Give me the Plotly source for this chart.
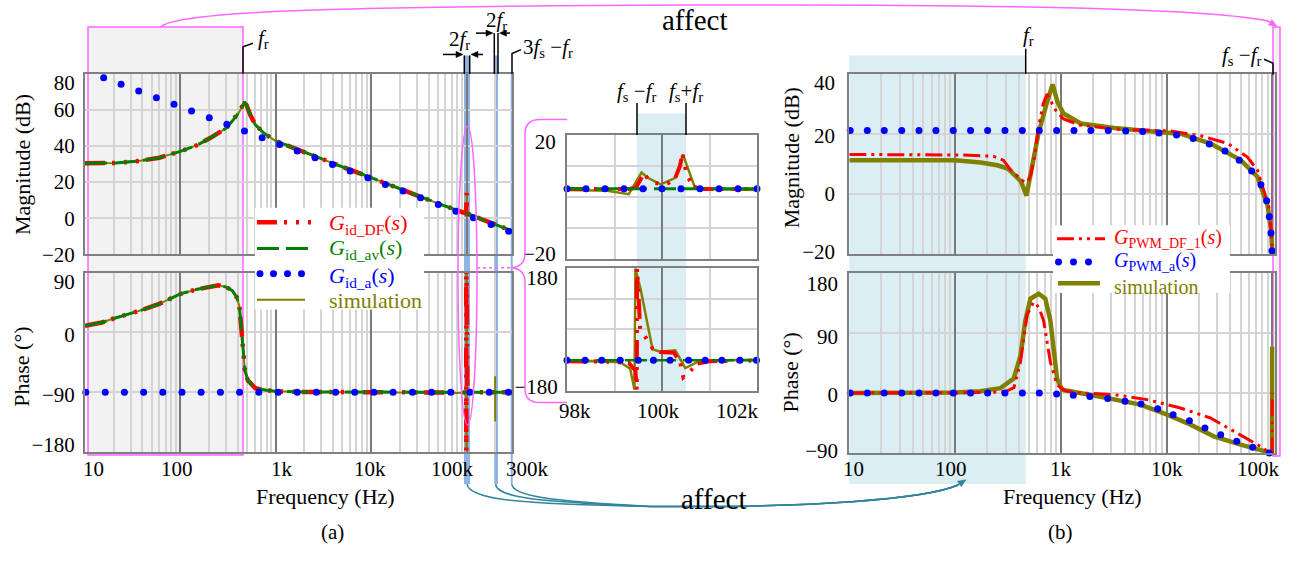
import math
import plotly.graph_objects as go

W, H = 1308, 563
def X(p): return p / W
def Y(p): return 1 - p / H
def P(x, y): return f"{X(x):.5f},{Y(y):.5f}"

FONT = "Times New Roman, Liberation Serif, DejaVu Serif, serif"
RED, GREEN, BLUE, OLIVE = "#ff0000", "#008000", "#0000ff", "#808000"
PINK, TEAL, BAND, LBLUE, LGRAY = "#ff66ff", "#31859c", "#8db4e2", "#daeef3", "#f2f2f2"
GRID, DGRID, FRAME = "#d4d4d4", "#7a7a7a", "#808080"
DF_DASH = "20px,7px,3px,9px,3px,9px,3px,7px"
AV_DASH = "22px,7px"
DF1_DASH = "17px,5px,3px,5px,3px,5px"

# ---------------- data : panel (a)  G_id ----------------
freq_a_mag = [10, 15, 21, 38, 60, 100, 150, 205, 250, 305, 360, 410, 440, 470, 495, 540, 610, 740, 990,
              1800, 4000, 10000, 21600, 50000, 98000]
mag_a_model = [30.4, 30.4, 30.6, 31.8, 33.5, 37.0, 40.5, 44.4, 47.0, 50.0, 54.6, 58.5, 61.5, 64.5, 62.6,
               57.3, 51.9, 47.4, 42.9, 37.5, 30.4, 22.5, 15.5, 8.2, 2.7]
freq_a_mag_hi = [102000, 150000, 200000, 300000]
mag_a_hi = [2.6, -1.0, -3.4, -7.0]

freq_a_ph = [10, 15, 20, 30, 40, 60, 80, 100, 150, 200, 250, 300, 350, 390, 415, 430, 450, 475, 510, 610,
             800, 1000, 2000, 10000, 98000]
ph_a_model = [10, 15, 21, 28, 34, 43, 51, 58, 65, 69, 71, 68.5, 63, 53, 40, 16, -22, -57, -72, -84,
              -87, -88.5, -89.5, -90, -90.5]
freq_a_ph_hi = [102000, 300000]
ph_a_hi = [-90, -90]
freq_sim_ph_hi = [102000, 199400, 199500, 199700, 200000, 300000]
ph_sim_hi = [-90, -90, -66, -134, -90, -90]

freq_a_dots_mag = [10.2, 15.7, 23.9, 36.6, 56.1, 85.8, 131, 201, 307, 470, 720, 1100, 1680, 2580, 3940,
                   6030, 9230, 14100, 21600, 33000, 50600, 77400, 118000, 181000, 277000]
mag_a_dots = [81.6, 77.9, 74.2, 70.5, 66.8, 63.1, 59.4, 55.7, 52.0, 48.3, 44.6, 40.9, 37.2, 33.5, 29.8,
              26.1, 22.4, 18.7, 15.0, 11.3, 7.6, 3.9, 0.2, -3.5, -7.2]
freq_a_dots_ph = [10.2, 16.3, 25.9, 41.2, 65.4, 104, 165, 263, 418, 664, 1060, 1680, 2670, 4240, 6740,
                  10700, 17000, 27100, 43000, 68400, 109000, 173000, 275000]
ph_a_dots = [-90, -90, -90, -90, -90, -90, -90, -90, -90, -90, -90, -90, -90, -90, -90, -90, -90, -90,
             -90, -90, -90, -90, -90]

# inset 98k - 102k
freq_in_df_mag = [98000, 99300, 99450, 99550, 99620, 99700, 99850, 100000, 100150, 100280, 100380, 100430,
                  100520, 100650, 100800, 102000]
mag_in_df = [2.6, 2.6, 3.0, 5.8, 7.5, 6.0, 4.6, 4.1, 4.6, 6.2, 10.0, 14.0, 7.2, 3.5, 2.6, 2.6]
freq_in_sim_mag = [98000, 98850, 99300, 99570, 99700, 99970, 100280, 100440, 100700, 102000]
mag_in_sim = [2.3, 2.0, 0.9, 7.9, 6.2, 4.1, 6.2, 13.75, 2.7, 2.3]
freq_in_av = [98000, 102000]
mag_in_av = [2.7, 2.7]
ph_in_av = [-90, -90]
freq_in_dots_mag = [98000, 98400, 98800, 99200, 99600, 100000, 100400, 100800, 101200, 101600, 102000]
mag_in_dots = [2.7, 2.7, 2.7, 2.7, 2.7, 2.7, 2.7, 2.7, 2.7, 2.7, 2.7]
freq_in_dots_ph = [98000, 98380, 98730, 99120, 99500, 99820, 100170, 100560, 100910, 101260, 101640, 101990]
ph_in_dots = [-90, -90, -90, -90, -90, -90, -90, -90, -90, -90, -90, -90]
freq_in_df_ph = [98000, 98800, 99300, 99440, 99470, 99475, 99510, 99540, 99620, 99800, 99950, 100250,
                 100380, 100450, 100550, 100750, 101000, 102000]
ph_in_df = [-93, -94, -98, -120, -178, 178, 90, 0, -16, -55, -66, -68, -95, -140, -128, -100, -93, -91]
freq_in_sim_ph = [98000, 99120, 99330, 99420, 99440, 99550, 99800, 99960, 100280, 100490, 100740, 101000,
                  102000]
ph_in_sim = [-91, -96, -115, -176, 178, 117, -58, -65, -61, -113, -96, -91, -89]

# ---------------- data : panel (b)  G_PWM ----------------
freq_b_df_mag = [10, 50, 120, 230, 286, 334, 400, 450, 481, 520, 560, 612, 680, 740, 800, 890, 1060, 1500,
                 3200, 10900, 21000, 38000, 58000, 72000, 92000, 97000, 100000]
mag_b_df = [13.2, 13.2, 13.0, 12.6, 11.3, 8.1, 5.5, 4.0, 3.9, 6.5, 12.0, 22.0, 30.0, 33.3, 31.0, 28.0,
            25.0, 23.0, 21.6, 21.0, 19.4, 16.8, 12.3, 8.0, -3.9, -12.0, -20.0]
freq_b_sim_mag = [10, 100, 174, 250, 315, 418, 473, 530, 612, 740, 835, 930, 1060, 1540, 3200, 6600,
                  13700, 26000, 50000, 72000, 90000, 97000, 100000]
mag_b_sim = [11.3, 11.3, 10.5, 9.6, 8.5, 4.3, -0.5, 8.0, 20.0, 30.6, 36.5, 30.6, 26.8, 23.5, 22.0, 21.0,
             20.0, 16.8, 11.3, 5.8, -3.9, -12.0, -20.0]
freq_b_dots_mag = [10.2, 14.8, 21.4, 31.3, 45.6, 65.9, 96.1, 140, 203, 296, 432, 625, 912, 1330, 1920,
                   2800, 4100, 5930, 8450, 12400, 17800, 25300, 35600, 48500, 63600, 77800, 88100, 93300,
                   96800, 98900]
mag_b_dots = [21.2, 21.2, 21.2, 21.2, 21.2, 21.2, 21.2, 21.2, 21.2, 21.2, 21.2, 21.2, 21.2, 21.2, 21.2,
              21.2, 21.0, 20.8, 20.3, 19.7, 18.5, 16.7, 14.3, 11.3, 7.7, 3.1, -2.2, -7.5, -12.9, -18.8]
freq_b_df_ph = [10, 100, 200, 300, 360, 414, 479, 553, 620, 687, 740, 796, 920, 1100, 1530, 3150, 6530,
                13500, 25900, 49800, 77000, 94400, 99500, 99600]
ph_b_df = [0, 0, 0.5, 2.0, 8.0, 45.5, 117, 136, 128, 108, 74, 45.5, 12, 3, 0, -2.5, -10, -22.5, -37.5,
           -62.5, -80, -90, -90, 0]
freq_b_sim_ph = [10, 100, 173, 268, 358, 414, 461, 515, 617, 713, 796, 855, 920, 1026, 1530, 2730, 5650,
                 10100, 16800, 27900, 49800, 77000, 94400, 99000, 99300]
ph_b_sim = [0, 0.5, 2.4, 7.2, 21.5, 55, 108, 141, 148.5, 141, 108, 60, 21.5, 4.8, 0, -7.5, -17.5, -32.5,
            -47.5, -65, -77.5, -85, -90, -90, 69]
freq_b_dots_ph = [10.2, 14.8, 21.4, 31.3, 45.6, 65.9, 96.1, 140, 203, 296, 432, 625, 912, 1310, 1880, 2770,
                  4040, 5720, 8220, 11500, 16400, 23000, 32400, 45900, 65000, 93300]
ph_b_dots = [0, 0, 0, 0, 0, 0, 0, 0, 0, 0, 0, 0, -1.5, -3.5, -5.5, -8.5, -12.5, -16.5, -23.5, -32.5, -41.5,
             -52.5, -62.5, -72.5, -81.5, -90]

# tick labels
xlab_a = ["10", "100", "1k", "10k", "100k", "300k"]
xlab_b = ["10", "100", "1k", "10k", "100k"]
xlab_in = ["98k", "100k", "102k"]

# ---------------- figure ----------------
fig = go.Figure()

def line(xa, ya, f, v, color, width, dash="solid"):
    fig.add_trace(go.Scatter(x=f, y=v, xaxis=xa, yaxis=ya, mode="lines", showlegend=False,
                             hoverinfo="skip", line=dict(color=color, width=width, dash=dash)))

def dots(xa, ya, f, v, size=7):
    fig.add_trace(go.Scatter(x=f, y=v, xaxis=xa, yaxis=ya, mode="markers", showlegend=False,
                             hoverinfo="skip", cliponaxis=False,
                             marker=dict(color=BLUE, size=size, line=dict(width=0))))

# (a) magnitude
line("x", "y", freq_a_mag + freq_in_sim_mag + freq_a_mag_hi, mag_a_model + mag_in_sim + mag_a_hi, OLIVE, 2)
line("x", "y", freq_a_mag + freq_in_df_mag + freq_a_mag_hi, mag_a_model + mag_in_df + mag_a_hi, RED, 4.5, DF_DASH)
line("x", "y", freq_a_mag + freq_a_mag_hi, mag_a_model + mag_a_hi, GREEN, 3, AV_DASH)
dots("x", "y", freq_a_dots_mag, mag_a_dots)
# (a) phase
line("x2", "y2", freq_a_ph + freq_in_sim_ph + freq_sim_ph_hi, ph_a_model + ph_in_sim + ph_sim_hi, OLIVE, 2)
line("x2", "y2", freq_a_ph + freq_in_df_ph + freq_a_ph_hi, ph_a_model + ph_in_df + ph_a_hi, RED, 4.5, DF_DASH)
line("x2", "y2", freq_a_ph + freq_a_ph_hi, ph_a_model + ph_a_hi, GREEN, 3, AV_DASH)
dots("x2", "y2", freq_a_dots_ph, ph_a_dots)
# inset magnitude
line("x3", "y3", freq_in_sim_mag, mag_in_sim, OLIVE, 2.5)
line("x3", "y3", freq_in_df_mag, mag_in_df, RED, 4, DF_DASH)
line("x3", "y3", freq_in_av, mag_in_av, GREEN, 3, AV_DASH)
dots("x3", "y3", freq_in_dots_mag, mag_in_dots)
# inset phase
line("x4", "y4", freq_in_sim_ph, ph_in_sim, OLIVE, 2.5)
line("x4", "y4", freq_in_df_ph, ph_in_df, RED, 4, DF_DASH)
line("x4", "y4", freq_in_av, ph_in_av, GREEN, 2.5, AV_DASH)
dots("x4", "y4", freq_in_dots_ph, ph_in_dots)
# (b) magnitude
line("x5", "y5", freq_b_sim_mag, mag_b_sim, OLIVE, 4.5)
line("x5", "y5", freq_b_df_mag, mag_b_df, RED, 3, DF1_DASH)
dots("x5", "y5", freq_b_dots_mag, mag_b_dots)
# (b) phase
line("x6", "y6", freq_b_sim_ph, ph_b_sim, OLIVE, 4.5)
line("x6", "y6", freq_b_df_ph, ph_b_df, RED, 3, DF1_DASH)
dots("x6", "y6", freq_b_dots_ph, ph_b_dots)

# ---------------- axes ----------------
minor_a = [m * 10 ** e for e in range(1, 6) for m in range(2, 10) if m * 10 ** e <= 300000]
minor_b = [m * 10 ** e for e in range(1, 5) for m in range(2, 10)]
dec_a = [10, 100, 1000, 10000, 100000]

def xlog(x0, x1, rng, anchor, minor_vals):
    return dict(type="log", domain=[X(x0), X(x1)], range=rng, anchor=anchor, tickmode="array",
                tickvals=dec_a, showticklabels=False, ticks="", showgrid=True, gridcolor=DGRID,
                gridwidth=1.5, minor=dict(tickmode="array", tickvals=minor_vals, showgrid=True,
                                           gridcolor=GRID, gridwidth=1.5, ticks=""),
                showline=True, mirror=True, linecolor=FRAME, linewidth=2, zeroline=False)

def xin(anchor):
    return dict(domain=[X(567), X(757)], range=[98000, 102000], anchor=anchor, tickmode="array",
                tickvals=[100000], showticklabels=False, ticks="", showgrid=True, gridcolor=DGRID,
                gridwidth=1.5, minor=dict(tickmode="array", tickvals=[99000, 101000], showgrid=True,
                                           gridcolor=GRID, gridwidth=1.5, ticks=""),
                showline=True, mirror=True, linecolor=FRAME, linewidth=2, zeroline=False)

def ylin(y0, y1, rng, anchor, labvals, labtext, gridvals, standoff):
    return dict(domain=[Y(y1), Y(y0)], range=rng, anchor=anchor, tickmode="array", tickvals=labvals,
                ticktext=labtext, ticks="", showgrid=False,
                minor=dict(tickmode="array", tickvals=gridvals, showgrid=True, gridcolor=GRID,
                           gridwidth=1.5, ticks=""),
                showline=True, mirror=True, linecolor=FRAME, linewidth=2, zeroline=False,
                tickfont=dict(family=FONT, size=21, color="black"), ticklabelstandoff=standoff)

fig.update_layout(
    xaxis=xlog(85, 512, [1, 5.4771], "y", minor_a),
    xaxis2=xlog(85, 512, [1, 5.4771], "y2", minor_a),
    xaxis3=xin("y3"),
    xaxis4=xin("y4"),
    xaxis5=xlog(849.3, 1274.7, [1, 5.021], "y5", minor_b),
    xaxis6=xlog(849.3, 1274.7, [1, 5.021], "y6", minor_b),
    yaxis=ylin(71, 257, [-20, 80], "x", [75.2, 60, 40, 20, 0, -20],
               ["80", "60", "40", "20", "0", "\u221220"], [0, 20, 40, 60], 4),
    yaxis2=ylin(276, 461, [-180, 90], "x2", [77, -3, -94, -169],
                ["90", "0", "\u221290", "\u2212180"], [0, -90], 4),
    yaxis3=ylin(134, 262, [-20, 20], "x3", [17.8, -18.4], ["20", "\u221220"], [-10, 0, 10], 5),
    yaxis4=ylin(271, 398, [-180, 180], "x4", [152, -166], ["180", "\u2212180"], [-90, 0, 90], 3),
    yaxis5=ylin(71, 257, [-20, 40], "x5", [37.1, 19.4, 0, -19],
                ["40", "20", "0", "\u221220"], [0, 20], 8),
    yaxis6=ylin(276, 462, [-90, 180], "x6", [163, 84, -3, -86],
                ["180", "90", "0", "\u221290"], [0, 90], 5),
)

# ---------------- shapes ----------------
shapes = []
def rect(x0, y0, x1, y1, fill, lc=None, lw=0, layer="below"):
    shapes.append(dict(type="rect", xref="paper", yref="paper", x0=X(x0), x1=X(x1), y0=Y(y1), y1=Y(y0),
                       fillcolor=fill, line=dict(color=lc or fill, width=lw), layer=layer))

def pth(d, color, width=1.5, dash="solid", layer="above", fill=None):
    s = dict(type="path", xref="paper", yref="paper", path=d,
             line=dict(color=color, width=width, dash=dash), layer=layer)
    if fill:
        s["fillcolor"] = fill
    shapes.append(s)

def seg(x0, y0, x1, y1, color="black", width=1.5, dash="solid"):
    shapes.append(dict(type="line", xref="paper", yref="paper", x0=X(x0), y0=Y(y0), x1=X(x1), y1=Y(y1),
                       line=dict(color=color, width=width, dash=dash), layer="above"))

def circ(cx, cy, r, color):
    shapes.append(dict(type="circle", xref="paper", yref="paper", x0=X(cx - r), x1=X(cx + r),
                       y0=Y(cy + r), y1=Y(cy - r), fillcolor=color, line=dict(width=0), layer="above"))

def arrow(tx0, ty0, hx, hy, color="black", head=7.0, half=3.2):
    # straight arrow from tail (tx0, ty0) to tip (hx, hy), drawn as a line and a filled head
    dx, dy = hx - tx0, hy - ty0
    n = math.hypot(dx, dy)
    ux, uy = dx / n, dy / n
    bx, by = hx - ux * head, hy - uy * head
    px_, py_ = -uy * half, ux * half
    seg(tx0, ty0, bx, by, color, 1.5)
    pth("M" + P(hx, hy) + " L" + P(bx + px_, by + py_) + " L" + P(bx - px_, by - py_) + " Z",
        color, 0.5, fill=color)

rect(88, 22.7, 243, 464, LGRAY, PINK, 1.5)
rect(849.3, 52, 1025.7, 494, LBLUE)
rect(637, 112, 686, 398, LBLUE)
rect(1273, 22.7, 1280, 465, LGRAY, PINK, 1.5)
rect(464, 52, 470, 494, BAND)
rect(494.3, 52, 498, 494, BAND)
rect(510.7, 71, 512.7, 494, BAND)

# magnifier
shapes.append(dict(type="circle", xref="paper", yref="paper", x0=X(458), x1=X(477), y0=Y(433), y1=Y(125),
                   line=dict(color=PINK, width=1.5), layer="above"))
seg(477, 271, 511, 271, PINK, 1.5, "dot")
pth("M" + P(567, 118) + " L" + P(540, 118) + " Q" + P(525, 118) + " " + P(525, 133) + " L" + P(525, 256)
    + " Q" + P(525, 270) + " " + P(511, 271) + " Q" + P(525, 272) + " " + P(525, 286) + " L" + P(525, 396)
    + " Q" + P(525, 410) + " " + P(540, 410) + " L" + P(567, 410), PINK)
# top pink arc
pth("M" + P(160, 23) + " C" + P(175, 8) + " " + P(300, 1) + " " + P(700, 0) + " C" + P(1050, -1) + " "
    + P(1220, 6) + " " + P(1268, 16.5), PINK, 1.5)
# teal arcs
for sx, c1 in [(467, (469, 510, 520, 515)), (495.5, (497, 507, 530, 512)), (511.7, (513, 506, 545, 511))]:
    pth("M" + P(sx, 494) + " C" + P(c1[0], c1[1]) + " " + P(c1[2], c1[3]) + " " + P(650, 517) + " C"
        + P(810, 518.5) + " " + P(925, 510) + " " + P(958, 495), TEAL, 1.5)

# black leader lines
pth("M" + P(243, 71) + " L" + P(243, 43) + " L" + P(253, 39.5), "black")
seg(464.3, 52, 464.3, 71); seg(469.7, 52, 469.7, 71)
seg(494.3, 29, 494.3, 71); seg(498, 29, 498, 71)
pth("M" + P(512, 71) + " L" + P(512, 50) + " L" + P(521, 46), "black")
seg(637, 101, 637, 134); seg(686, 101, 686, 134)
seg(1025.7, 45, 1025.7, 71)
pth("M" + P(1273, 72) + " L" + P(1273, 60) + " L" + P(1264, 56), "black")

# arrows
arrow(443, 51, 463, 51); arrow(483, 51, 471, 51)
arrow(476, 29, 493, 29); arrow(510, 29, 499.5, 29)
arrow(957, 495.5, 966, 489.5, TEAL, 8, 3.5)
arrow(1267, 16, 1277, 22, PINK, 8, 3.5)

# legend (a)
rect(255, 209, 424, 314, "white", layer="above")
seg(257, 224, 318, 224, RED, 4.5, DF_DASH)
seg(257, 251, 308, 251, GREEN, 3, AV_DASH)
for cx in [260, 273.5, 287.5, 301.5]:
    circ(cx, 277, 3.5, BLUE)
seg(257, 304, 305, 304, OLIVE, 2)
# legend (b)
rect(1053, 227, 1230, 297, "white", layer="above")
seg(1057, 241, 1105, 241, RED, 3, DF1_DASH)
for cx in [1058.5, 1073.5, 1088.5]:
    circ(cx, 265, 3.5, BLUE)
seg(1058, 287, 1100, 287, OLIVE, 4.5)

# ---------------- annotations ----------------
ann = []
def txt(x, y, s, size=21, color="black", xanchor="center", angle=0):
    ann.append(dict(x=X(x), y=Y(y), xref="paper", yref="paper", text=s, showarrow=False,
                    font=dict(family=FONT, size=size, color=color), xanchor=xanchor, yanchor="middle",
                    textangle=angle, borderpad=0))

txt(22, 165, "Magnitude (dB)", 22, angle=-90)
txt(22, 373, "Phase (\u00b0)", 22, angle=-90)
txt(791, 157, "Magnitude (dB)", 22, angle=-90)
txt(791, 379, "Phase (\u00b0)", 22, angle=-90)
txt(325, 507, "Frequency (Hz)", 22)
txt(1072, 507, "Frequency (Hz)", 22)
txt(333, 543, "(a)", 21)
txt(1060, 543, "(b)", 21)
txt(694, 15, "affect", 29)
txt(713, 509, "affect", 29)
for xp, s in zip([93, 177, 282, 370, 453, 527], xlab_a):
    txt(xp, 478, s)
for xp, s in zip([853, 951, 1061, 1167, 1258], xlab_b):
    txt(xp, 478, s)
for xp, s in zip([575, 658, 737], xlab_in):
    txt(xp, 419, s)

FR = "<i>f</i><sub>r</sub>"
txt(263, 35, FR)
txt(459, 36, "2" + FR)
txt(496, 16, "2" + FR)
txt(548, 44, "3<i>f</i><sub>s</sub> \u2212" + FR)
txt(637, 90, "<i>f</i><sub>s</sub> \u2212" + FR)
txt(686, 90, "<i>f</i><sub>s</sub>+" + FR)
txt(1028, 32, FR)
txt(1242, 53, "<i>f</i><sub>s</sub> \u2212" + FR)

# legend texts
txt(328, 226, "<i>G</i><sub>id_DF</sub>(<i>s</i>)", 22, RED, "left")
txt(328, 252, "<i>G</i><sub>id_av</sub>(<i>s</i>)", 22, GREEN, "left")
txt(328, 280, "<i>G</i><sub>id_a</sub>(<i>s</i>)", 22, BLUE, "left")
txt(328, 305, "simulation", 22, OLIVE, "left")
txt(1113, 241, "<i>G</i><sub>PWM_DF_1</sub>(<i>s</i>)", 20, RED, "left")
txt(1113, 265, "<i>G</i><sub>PWM_a</sub>(<i>s</i>)", 20, BLUE, "left")
txt(1113, 291, "simulation", 20, OLIVE, "left")

fig.update_layout(width=W, height=H, margin=dict(l=0, r=0, t=0, b=0), paper_bgcolor="white",
                  plot_bgcolor="rgba(0,0,0,0)", showlegend=False, hovermode=False,
                  font=dict(family=FONT, size=21, color="black"), shapes=shapes, annotations=ann)

fig.write_html("out.html")
